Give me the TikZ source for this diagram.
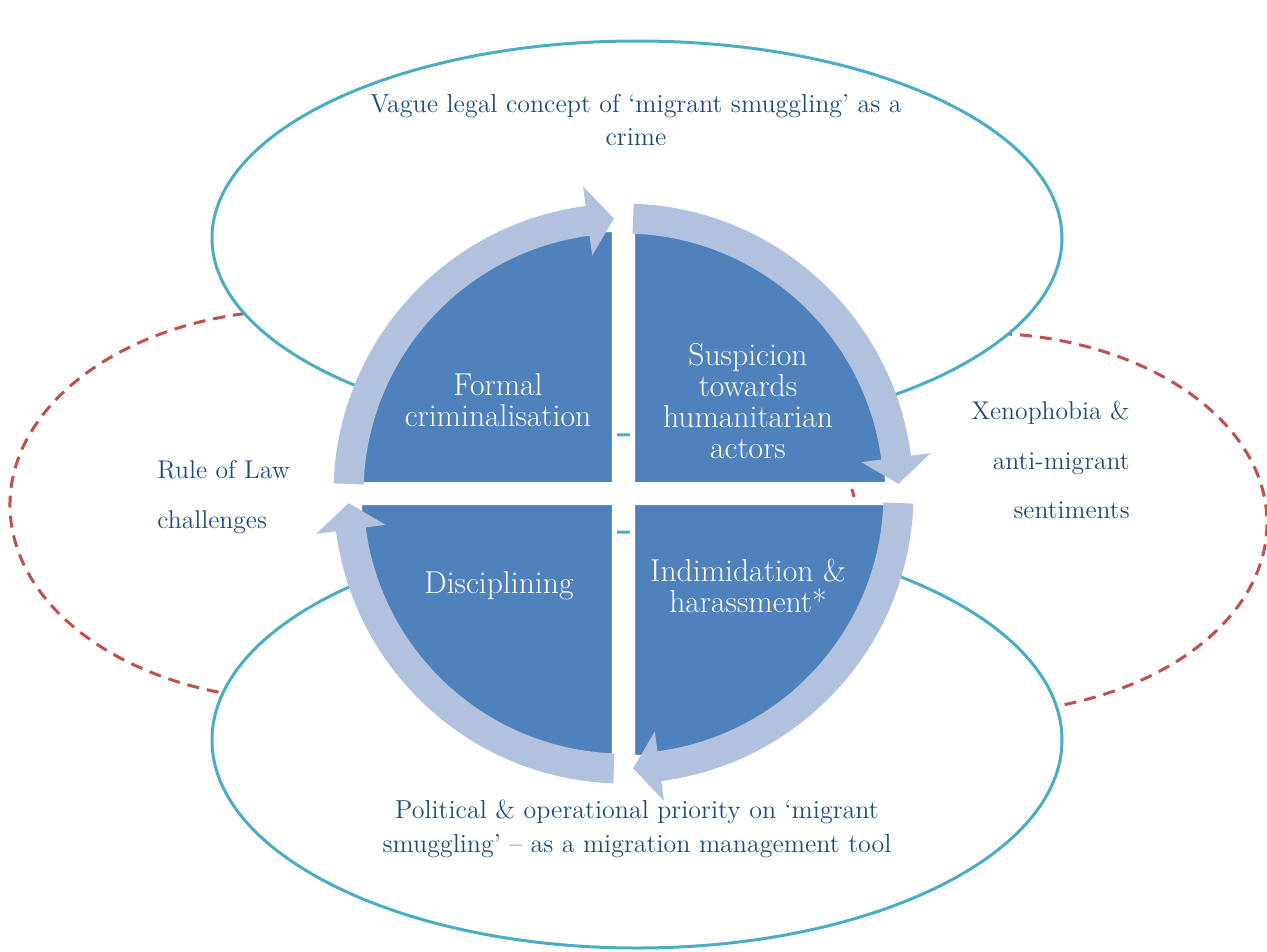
\documentclass[tikz,border=0pt]{standalone}
\usepackage{tikz}
\definecolor{quadblue}{HTML}{4F81BD}
\definecolor{bandblue}{HTML}{B2C1DD}
\definecolor{ringteal}{HTML}{4BACC6}
\definecolor{ringred}{HTML}{C0504D}
\definecolor{labelblue}{HTML}{1F497D}

\begin{document}
\begin{tikzpicture}[x=0.02cm,y=0.02cm,
    ring/.style={draw=ringteal,line width=0.06cm,fill=white},
    redring/.style={draw=ringred,line width=0.06cm,dash pattern=on 0.24cm off 0.16cm},
    quad/.style={fill=quadblue,draw=white,line width=0.1cm},
    band/.style={fill=bandblue},
    inlabel/.style={text=white,align=center,inner sep=0,font=\fontsize{18}{17.6}\selectfont},
    outlabel/.style={text=labelblue,align=center,inner sep=0,font=\fontsize{14.8}{19.3}\selectfont},
    sidelabel/.style={text=labelblue,inner sep=0,font=\fontsize{14.6}{28.3}\selectfont}]
  \useasboundingbox (-623.5,-457.5) rectangle (643.5,493.5);
  \draw[redring] (-323.5,-11.5) ++(97:290 and 195) arc[start angle=97,end angle=258,x radius=290,y radius=195];
  \draw[redring] (356.5,-29.5) ++(86:287 and 190) arc[start angle=86,end angle=-77,x radius=287,y radius=190];
  \draw[ringred,line width=0.06cm] (228.5,4.5) -- (230.5,-3.5);
  \draw[ring] (13.5,255.5) ellipse [x radius=425,y radius=197];
  \draw[ring] (13.5,-246.5) ellipse [x radius=425,y radius=208];
  \foreach \a in {0,90,180,270}
    \draw[quad] (\a+45:12.73) -- ++(\a:255) arc[start angle=\a,end angle=\a+90,radius=255] -- cycle;
  \foreach \s in {178,88,-2,-92}
    \fill[band] (\s:290) arc[start angle=\s,end angle=\s-80.5,radius=290] -- (\s-80.5:310)
      -- (\s-86:275) -- (\s-80.5:240) -- (\s-80.5:260) arc[start angle=\s-80.5,end angle=\s,radius=260] -- cycle;
  \node[inlabel] (formal) at (-125.5,93.5) {Formal\\criminalisation};
  \node[inlabel] (suspicion) at (124.5,92.5) {Suspicion\\towards\\humanitarian\\actors};
  \node[inlabel] (disciplining) at (-124.5,-92.5) {Disciplining};
  \node[inlabel] (intimidation) at (124.5,-92.5) {Indimidation \&\\harassment*};
  \node[outlabel] (vague) at (12.5,373.5) {Vague legal concept of ‘migrant smuggling’ as a\\crime};
  \node[outlabel] (priority) at (13.5,-335.5) {Political \& operational priority on ‘migrant\\smuggling’ – as a migration management tool};
  \node[sidelabel,anchor=west,align=left] (rule) at (-466.5,-3.5) {Rule of Law\\challenges};
  \node[sidelabel,anchor=east,align=right] (xeno) at (506.5,33.5) {Xenophobia \&\\anti-migrant\\sentiments};
\end{tikzpicture}
\end{document}
